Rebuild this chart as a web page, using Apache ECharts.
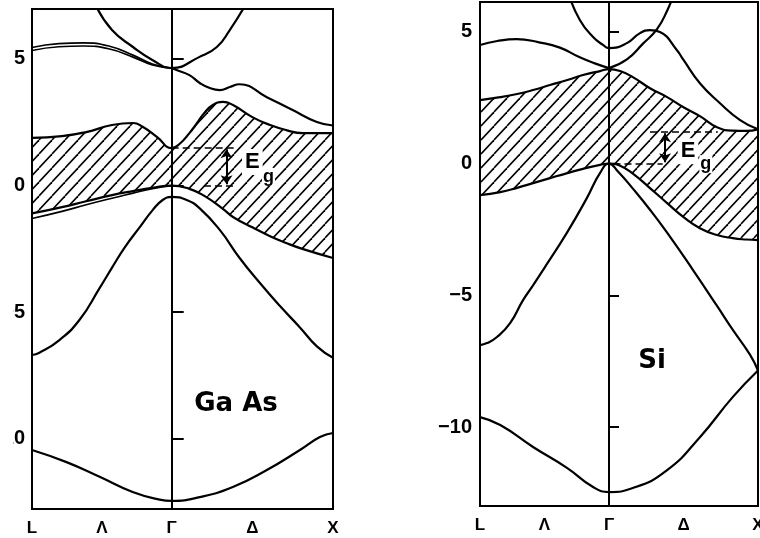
<!DOCTYPE html>
<html>
<head>
<meta charset="utf-8">
<script src="https://cdn.jsdelivr.net/npm/echarts@6/dist/echarts.min.js"></script>
<style>
  html, body { margin: 0; padding: 0; background: #fff; }
  #chart { width: 760px; height: 538px; }
</style>
</head>
<body>
<div id="chart"></div>
<script>
// Wave-vector path in units of 2π/a: L at -√3/2, Γ at 0, X at 1
const kTicks = [-0.866, -0.433, 0, 0.5, 1];
const kNames = ['L', 'Λ', 'Γ', 'Δ', 'X'];
const energyTicks = [-10, -5, 0, 5];

// ---------- GaAs bands, [k, E (eV)] ----------
const gaasGammaParabola = [[-0.47, 7.1], [-0.37, 6.14], [-0.24, 5.47], [-0.12, 4.96], [0, 4.64],
  [0.17, 5.07], [0.28, 5.47], [0.36, 6.14], [0.45, 7.05]];
const gaasLBandA = [[-0.866, 5.45], [-0.7, 5.6], [-0.55, 5.63], [-0.385, 5.5], [-0.24, 5.15], [-0.12, 4.8], [0, 4.64]];
const gaasLBandB = [[-0.866, 5.33], [-0.7, 5.48], [-0.55, 5.51], [-0.385, 5.39], [-0.24, 5.07], [-0.12, 4.76], [0, 4.64]];
const gaasGammaX = [[0, 4.64], [0.03, 4.56], [0.11, 4.36], [0.174, 4.05], [0.236, 3.85], [0.298, 3.77],
  [0.36, 3.89], [0.42, 4.0], [0.59, 3.49], [0.75, 2.98], [0.9, 2.51], [1, 2.37]];
// lowest conduction band and highest valence band
const gaasCB = [[-0.866, 1.88], [-0.68, 1.95], [-0.53, 2.11], [-0.37, 2.39], [-0.24, 2.47], [-0.18, 2.32], [-0.09, 1.91],
  [0, 1.48], [0.05, 1.65], [0.11, 2.07], [0.155, 2.45], [0.2, 2.85], [0.255, 3.18], [0.317, 3.3], [0.38, 3.18],
  [0.5, 2.7], [0.61, 2.39], [0.71, 2.19], [0.81, 2.07], [1, 2.07]];
const gaasVB = [[-0.866, -1.1], [-0.68, -0.85], [-0.53, -0.62], [-0.37, -0.38], [-0.24, -0.22], [-0.12, -0.09],
  [0, 0], [0.11, -0.13], [0.2, -0.4], [0.317, -0.92], [0.38, -1.24], [0.5, -1.65], [0.61, -2.0], [0.71, -2.27],
  [0.81, -2.5], [1, -2.86]];
const gaasVBSecond = [[-0.866, -1.3], [-0.68, -1.02], [-0.53, -0.76], [-0.37, -0.5], [-0.24, -0.3], [-0.12, -0.12], [0, 0]];
const gaasSplitOff = [[-0.866, -6.69], [-0.82, -6.6], [-0.696, -6.1], [-0.571, -5.3], [-0.447, -4.05], [-0.366, -3.2],
  [-0.292, -2.45], [-0.199, -1.65], [-0.118, -0.97], [-0.056, -0.57], [0, -0.45], [0.093, -0.57], [0.174, -0.9],
  [0.298, -1.75], [0.42, -2.85], [0.547, -3.85], [0.67, -4.75], [0.795, -5.6], [0.9, -6.35], [1, -6.8]];
const gaasLowest = [[-0.866, -10.44], [-0.652, -10.92], [-0.447, -11.5], [-0.242, -12.1], [-0.075, -12.4], [0, -12.45],
  [0.174, -12.3], [0.379, -11.9], [0.59, -11.23], [0.795, -10.44], [0.919, -9.93], [1, -9.77]];
const gaasGap = 1.48;

// ---------- Si bands, [k, E (eV)] ----------
const siGammaUpper = [[-0.27, 6.4], [-0.195, 5.44], [-0.107, 4.8], [-0.04, 4.5], [0, 4.38], [0.12, 4.57], [0.208, 4.95],
  [0.275, 5.06], [0.342, 4.99], [0.456, 4.3], [0.5, 3.93], [0.61, 3.05], [0.745, 2.29], [0.88, 1.65], [1, 1.3]];
const siGammaSteep = [[0, 3.62], [0.12, 3.95], [0.228, 4.55], [0.322, 5.1], [0.39, 5.8], [0.44, 6.5]];
const siLBand = [[-0.866, 4.5], [-0.75, 4.65], [-0.62, 4.72], [-0.47, 4.6], [-0.33, 4.4], [-0.2, 4.04], [-0.1, 3.81], [0, 3.62]];
const siCB = [[-0.866, 2.41], [-0.73, 2.52], [-0.617, 2.64], [-0.51, 2.79], [-0.396, 2.98], [-0.28, 3.17], [-0.175, 3.36],
  [-0.06, 3.51], [0, 3.58], [0.074, 3.51], [0.16, 3.28], [0.275, 2.86], [0.39, 2.52], [0.5, 2.14], [0.61, 1.8],
  [0.725, 1.38], [0.83, 1.25], [0.92, 1.24], [1, 1.3]];
const siVB = [[-0.866, -1.2], [-0.73, -1.08], [-0.617, -0.92], [-0.51, -0.74], [-0.396, -0.55], [-0.28, -0.36],
  [-0.175, -0.2], [-0.06, -0.05], [0, 0], [0.074, -0.08], [0.16, -0.38], [0.275, -0.93], [0.39, -1.5], [0.5, -2.03],
  [0.61, -2.45], [0.725, -2.71], [0.83, -2.83], [0.92, -2.88], [1, -2.9]];
const siLowerVB = [[-0.866, -6.89], [-0.819, -6.81], [-0.752, -6.58], [-0.664, -6.05], [-0.577, -5.18], [-0.51, -4.62],
  [-0.443, -4.04], [-0.28, -2.6], [-0.148, -1.3], [-0.06, -0.35], [0, 0], [0.06, -0.3], [0.16, -0.95], [0.275, -1.75],
  [0.39, -2.62], [0.564, -4.04], [0.725, -5.4], [0.83, -6.3], [0.946, -7.25], [1, -7.85]];
const siLowest = [[-0.866, -9.62], [-0.73, -9.92], [-0.51, -10.75], [-0.28, -11.55], [-0.107, -12.27], [0, -12.46],
  [0.16, -12.31], [0.39, -11.63], [0.61, -10.38], [0.83, -8.86], [1, -7.85]];
const siGap = 1.2;

const INK = '#000';
const FONT = '"Liberation Sans", Arial, sans-serif';

// diagonal hatch used to shade the gap region
function hatchPattern() {
  const w = 13, h = 14;
  const c = document.createElement('canvas');
  c.width = w; c.height = h;
  const ctx = c.getContext('2d');
  ctx.strokeStyle = INK;
  ctx.lineWidth = 1.6;
  for (const dx of [-w, 0, w]) {
    ctx.beginPath();
    ctx.moveTo(dx, h);
    ctx.lineTo(dx + w, 0);
    ctx.stroke();
  }
  return c;
}
const hatch = { image: hatchPattern(), repeat: 'repeat' };

function band(data, gi, extra) {
  return Object.assign({
    type: 'line', xAxisIndex: gi, yAxisIndex: gi, data: data,
    smooth: 0.5, symbol: 'none', silent: true,
    lineStyle: { color: INK, width: 2.2 }, animation: false, z: 3
  }, extra || {});
}

// The gap is shaded by filling below the conduction band with the hatch,
// then masking everything below the valence band top with white.
function gapEdges(cb, vb, gi) {
  return [
    band(cb, gi, { z: 1, areaStyle: { color: hatch, opacity: 1, origin: 'start' } }),
    band(vb, gi, { z: 1.5, areaStyle: { color: '#fff', opacity: 1, origin: 'start' } })
  ];
}

const gammaLine = {
  silent: true, symbol: 'none', animation: false, label: { show: false },
  lineStyle: { color: INK, width: 2, type: 'solid' },
  data: [{ xAxis: 0 }]
};

function gapMarks(gap, topFrom, topTo, botFrom, botTo, arrowK) {
  const dash = { color: INK, width: 1.7, type: [7, 4] };
  return {
    silent: true, symbol: 'none', animation: false, label: { show: false },
    lineStyle: { color: INK, width: 2, type: 'solid' },
    data: [
      [{ coord: [topFrom, gap], lineStyle: dash }, { coord: [topTo, gap] }],
      [{ coord: [botFrom, 0], lineStyle: dash }, { coord: [botTo, 0] }],
      [{ coord: [arrowK, gap - 0.05], symbol: 'arrow', symbolSize: [9, 9] },
       { coord: [arrowK, 0.05], symbol: 'arrow', symbolSize: [9, 9] }]
    ]
  };
}

function egLabels(ePos, gPos) {
  const base = { show: true, color: INK, fontFamily: FONT, fontWeight: 'bold', position: 'inside' };
  return {
    silent: true, symbol: 'circle', symbolSize: 0, animation: false,
    data: [
      { coord: ePos, label: Object.assign({}, base, { formatter: 'E', fontSize: 22, backgroundColor: '#fff', padding: [2, 3] }) },
      { coord: gPos, label: Object.assign({}, base, { formatter: 'g', fontSize: 18, backgroundColor: '#fff', padding: [0, 1] }) }
    ]
  };
}

const grids = [
  { left: 32, top: 9, width: 301, height: 500 },
  { left: 480, top: 2, width: 278, height: 504 }
];
const yRanges = [[-12.77, 6.97], [-12.99, 6.13]];

const option = {
  backgroundColor: '#fff',
  animation: false,
  grid: grids.map(g => Object.assign({
    show: true, borderColor: INK, borderWidth: 2, backgroundColor: 'transparent',
    containLabel: false, outerBoundsMode: 'none', z: 2
  }, g)),
  xAxis: [0, 1].map(gi => ({
    type: 'value', gridIndex: gi, min: -0.866, max: 1, z: 4,
    axisLine: { show: false }, splitLine: { show: false }, axisTick: { show: false },
    axisLabel: {
      customValues: kTicks,
      formatter: v => {
        let best = 0;
        kTicks.forEach((t, i) => { if (Math.abs(t - v) < Math.abs(kTicks[best] - v)) best = i; });
        return kNames[best];
      },
      margin: 11, fontSize: 17, fontWeight: 'bold', color: INK, fontFamily: FONT
    }
  })),
  yAxis: [0, 1].map(gi => ({
    type: 'value', gridIndex: gi, min: yRanges[gi][0], max: yRanges[gi][1], z: 4,
    axisLine: { show: false }, splitLine: { show: false },
    axisTick: { show: true, inside: true, length: gi === 0 ? 12 : 10, customValues: energyTicks,
      lineStyle: { color: INK, width: 2 } },
    axisLabel: {
      customValues: energyTicks,
      formatter: v => (v < 0 ? '\u2212' + (-v) : String(v)),
      margin: gi === 0 ? 7 : 8, fontSize: 20, fontWeight: 'bold', color: INK, fontFamily: FONT
    }
  })),
  graphic: [
    { type: 'rect', left: 0, top: 0, shape: { width: 13, height: 538 }, style: { fill: '#fff' }, z: 100 },
    { type: 'text', x: 236, y: 404, z: 50,
      style: { text: 'Ga As', font: 'bold 26px "DejaVu Sans", sans-serif', fill: INK,
        align: 'center', verticalAlign: 'middle' } },
    { type: 'text', x: 652, y: 361, z: 50,
      style: { text: 'Si', font: 'bold 26px "DejaVu Sans", sans-serif', fill: INK,
        align: 'center', verticalAlign: 'middle' } }
  ],
  series: [
    // GaAs
    ...gapEdges(gaasCB, gaasVB, 0),
    band(gaasVBSecond, 0, { lineStyle: { color: INK, width: 1.7 } }),
    band(gaasGammaParabola, 0),
    band(gaasLBandA, 0, { lineStyle: { color: INK, width: 1.7 } }),
    band(gaasLBandB, 0, { lineStyle: { color: INK, width: 1.7 } }),
    band(gaasGammaX, 0, { markLine: gapMarks(gaasGap, 0, 0.39, 0.2, 0.39, 0.34),
      markPoint: egLabels([0.5, 0.93], [0.6, 0.34]) }),
    band(gaasSplitOff, 0),
    band(gaasLowest, 0, { markLine: gammaLine }),
    // Si
    ...gapEdges(siCB, siVB, 1),
    band(siGammaUpper, 1),
    band(siGammaSteep, 1),
    band(siLBand, 1, { markLine: gapMarks(siGap, 0.275, 0.73, 0.03, 0.36, 0.376),
      markPoint: egLabels([0.53, 0.47], [0.65, -0.02]) }),
    band(siLowerVB, 1),
    band(siLowest, 1, { markLine: gammaLine })
  ]
};

const chart = echarts.init(document.getElementById('chart'), null, { renderer: 'canvas' });
chart.setOption(option);
</script>
</body>
</html>
